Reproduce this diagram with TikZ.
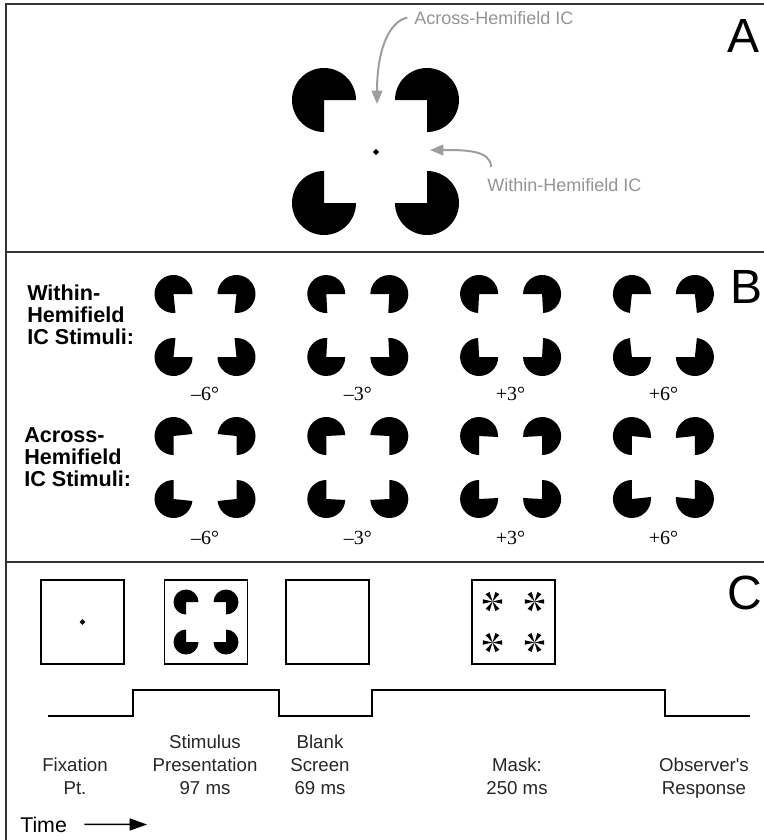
\documentclass[tikz,border=0pt]{standalone}
\usepackage{fontspec}
\setmainfont{Liberation Sans}[Ligatures=TeXOff]
\newfontfamily\degfont{Liberation Serif}
\usetikzlibrary{arrows.meta,shapes.geometric}
\tikzset{
  pics/pacman/.style args={#1/#2/#3}{code={
    \fill (0,0) -- ({90+(#2)}:#1) arc[start angle={90+(#2)}, end angle={360+(#3)}, radius=#1] -- cycle;
  }},
  pics/kanizsa/.style args={#1/#2/#3/#4}{code={
    \pic at (-#1,-#1) {pacman=#2/#3/#4};
    \pic[xscale=-1] at (#1,-#1) {pacman=#2/#3/#4};
    \pic[yscale=-1] at (-#1,#1) {pacman=#2/#3/#4};
    \pic[scale=-1] at (#1,#1) {pacman=#2/#3/#4};
  }},
  pics/maskstar/.style={code={
    \foreach \ang in {0,60,...,300}
      \fill (0,0) -- ({\ang-13}:10) arc[start angle={\ang-13}, end angle={\ang+13}, radius=10] -- cycle;
  }},
}
\begin{document}
\begin{tikzpicture}[x=0.75pt,y=-0.75pt,
	frame/.style={line width=1.5pt,draw=black!80},
	callout/.style={font=\fontsize{13.5}{16}\selectfont,text=black!42,inner sep=0pt,anchor=base west},
	callarrow/.style={draw=black!38,line width=1.5pt,-{Triangle[length=10pt,width=8pt]}},
	panel/.style={font=\fontsize{36}{40}\selectfont,inner sep=0pt,anchor=base west},
	rowlabel/.style={font=\bfseries\fontsize{16.2}{16.5}\selectfont,align=left,anchor=north west,inner sep=0pt},
	deg/.style={font=\degfont\fontsize{15}{17}\selectfont,anchor=base,inner sep=0pt},
	screen/.style={draw,line width=1.1pt,minimum width=62pt,minimum height=63pt,inner sep=0pt},
	fixdot/.style={diamond,fill,inner sep=0pt,minimum size=4.5pt},
	stage/.style={font=\fontsize{14}{17}\selectfont,align=center,anchor=north,inner sep=0pt,text=black!85}]
	\useasboundingbox (0,0) rectangle (764,840);
	\draw[frame] (764,4) -- (6,4) -- (6,840);
	\draw[frame] (6,252) -- (764,252);
	\draw[frame] (6,562) -- (764,562);
	% A
	\node[panel] (labA) at (727,52) {A};
	\pic at (375.5,151.5) {kanizsa=51.5/32/0/0};
	\node[fixdot,minimum size=5pt] (fixA) at (376,152) {};
	\node[callout] (acrossLbl) at (414,24) {Across-Hemifield IC};
	\node[callout] (withinLbl) at (487,191) {Within-Hemifield IC};
	\coordinate (acrossTip) at (377,104);
	\coordinate (withinTip) at (430,150);
	\draw[callarrow] ([xshift=-5pt]acrossLbl.west) .. controls +(-18,4) and +(0,-55) .. (acrossTip);
	\draw[callarrow] ([xshift=3pt,yshift=8pt]withinLbl.north west) .. controls +(0,-17) and +(35,0) .. (withinTip);
	% B
	\node[panel] (labB) at (730,303) {B};
	\node[rowlabel] (withinRow) at (27,285) {Within-\\Hemifield\\IC Stimuli:};
	\node[rowlabel] (acrossRow) at (24,427) {Across-\\Hemifield\\IC Stimuli:};
	\foreach \dg/\lab [count=\i from 0] in {-6/{–6°},-3/{–3°},3/{+3°},6/{+6°}} {
		\pic at ({205+152.8*\i},325.5) {kanizsa=31.5/19/\dg/0};
		\node[deg] (withinDeg\i) at ({205+152.8*\i},400) {\lab};
		\pic at ({205+152.8*\i},467.5) {kanizsa=31.5/19/0/\dg};
		\node[deg] (acrossDeg\i) at ({205+152.8*\i},544) {\lab};
	}
	% C
	\node[panel] (labC) at (727,609) {C};
	\node[screen] (fixScreen) at (82.5,622) {};
	\node[screen] (stimScreen) at (206,622) {};
	\node[screen] (blankScreen) at (327.5,622) {};
	\node[screen] (maskScreen) at (513.5,622) {};
	\node[fixdot] (fixC) at (fixScreen) {};
	\pic at (stimScreen) {kanizsa=20/12.5/0/0};
	\foreach \sx in {-1,1}
		\foreach \sy in {-1,1}
			\pic at ([shift={(\sx*21,\sy*20.5)}]maskScreen.center) {maskstar};
	\draw[line width=1.2pt] (48,716) -| (133,690) -| (279,716) -| (372,690) -| (665,716) -- (750,716);
	\node[stage] (fixTxt) at (75,758) {Fixation\\Pt.};
	\node[stage] (stimTxt) at (205,735) {Stimulus\\Presentation\\97 ms};
	\node[stage] (blankTxt) at (320,735) {Blank\\Screen\\69 ms};
	\node[stage] (maskTxt) at (517,758) {Mask:\\250 ms};
	\node[stage] (respTxt) at (704,758) {Observer's\\Response};
	\node[font=\fontsize{16}{18}\selectfont,anchor=base west,inner sep=0pt] (timeLbl) at (20,832) {Time};
	\coordinate (timeEnd) at (147,824.5);
	\draw[line width=1.1pt,-{Triangle[length=13pt,width=9pt]}] ([xshift=13pt]timeLbl.east) -- (timeEnd);
\end{tikzpicture}
\end{document}
